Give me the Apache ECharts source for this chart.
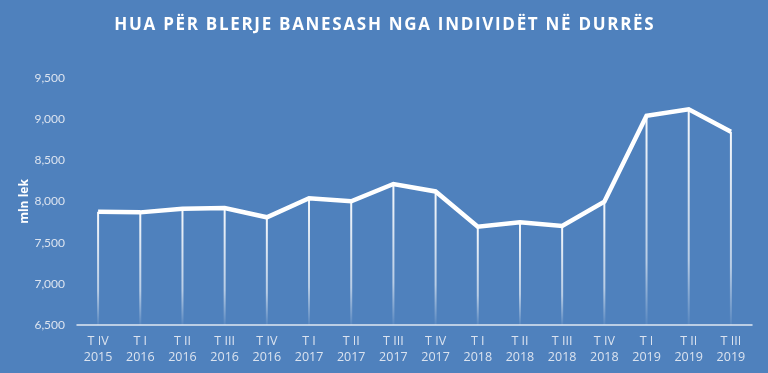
<!DOCTYPE html>
<html>
<head>
<meta charset="utf-8">
<script src="https://cdn.jsdelivr.net/npm/echarts@6/dist/echarts.min.js"></script>
<style>
html,body{margin:0;padding:0;background:#4f81bd;}
#c{width:768px;height:373px;}
</style>
</head>
<body>
<div id="c"></div>
<script>
var quarters = ['T IV','T I','T II','T III','T IV','T I','T II','T III','T IV','T I','T II','T III','T IV','T I','T II','T III'];
var years = ['2015','2016','2016','2016','2016','2017','2017','2017','2017','2018','2018','2018','2018','2019','2019','2019'];
var values = [7875, 7868, 7913, 7921, 7808, 8039, 8002, 8213, 8122, 7694, 7747, 7702, 7998, 9042, 9120, 8848];
var yTicks = [6500, 7000, 7500, 8000, 8500, 9000, 9500];
var titleText = 'HUA PËR BLERJE BANESASH NGA INDIVIDËT NË DURRËS';
var yName = 'mln lek';

var categories = quarters.map(function(q, i){ return q + '\n' + years[i]; });
// widen letter spacing with hair spaces
var spacedTitle = titleText.split('').join('\u200A');

var chart = echarts.init(document.getElementById('c'), null, {renderer:'canvas'});
chart.setOption({
  backgroundColor: '#4f81bd',
  animation: false,
  title: {
    text: spacedTitle,
    left: 'center',
    top: 12,
    textStyle: {color:'#ffffff', fontFamily:'Open Sans', fontWeight:'bold', fontSize:17}
  },
  grid: {left:77, right:16, top:78, bottom:48, containLabel:false},
  xAxis: {
    type: 'category',
    data: categories,
    boundaryGap: true,
    axisLine: {show:true, lineStyle:{color:'#dfe7f2', width:1.5}},
    axisTick: {show:false},
    axisLabel: {color:'#dbe3ef', fontFamily:'Open Sans', fontSize:12.5, lineHeight:16, margin:8, interval:0}
  },
  yAxis: {
    type: 'value',
    min: 6500, max: 9500, interval: 500,
    name: yName,
    nameLocation: 'middle',
    nameRotate: 90,
    nameGap: 46,
    nameMoveOverlap: false,
    nameTextStyle: {color:'#ffffff', fontFamily:'Open Sans', fontWeight:'bold', fontSize:12},
    axisLine: {show:false},
    axisTick: {show:false},
    splitLine: {show:false},
    axisLabel: {
      color:'#dbe3ef', fontFamily:'Lato', fontSize:12, margin:12,
      formatter: function(v){ return yTicks.indexOf(v) >= 0 ? v.toLocaleString('en-US') : ''; }
    }
  },
  series: [
    {
      type: 'bar',
      data: values,
      barWidth: 2,
      z: 1,
      itemStyle: {
        color: new echarts.graphic.LinearGradient(0,0,0,1,[
          {offset:0, color:'rgba(255,255,255,0.95)'},
          {offset:0.7, color:'rgba(255,255,255,0.6)'},
          {offset:1, color:'rgba(255,255,255,0.05)'}
        ])
      },
      silent: true
    },
    {
      type: 'line',
      data: values,
      z: 3,
      symbol: 'none',
      lineStyle: {color:'#ffffff', width:4.5, join:'miter'},
      silent: true
    }
  ]
});
</script>
</body>
</html>
